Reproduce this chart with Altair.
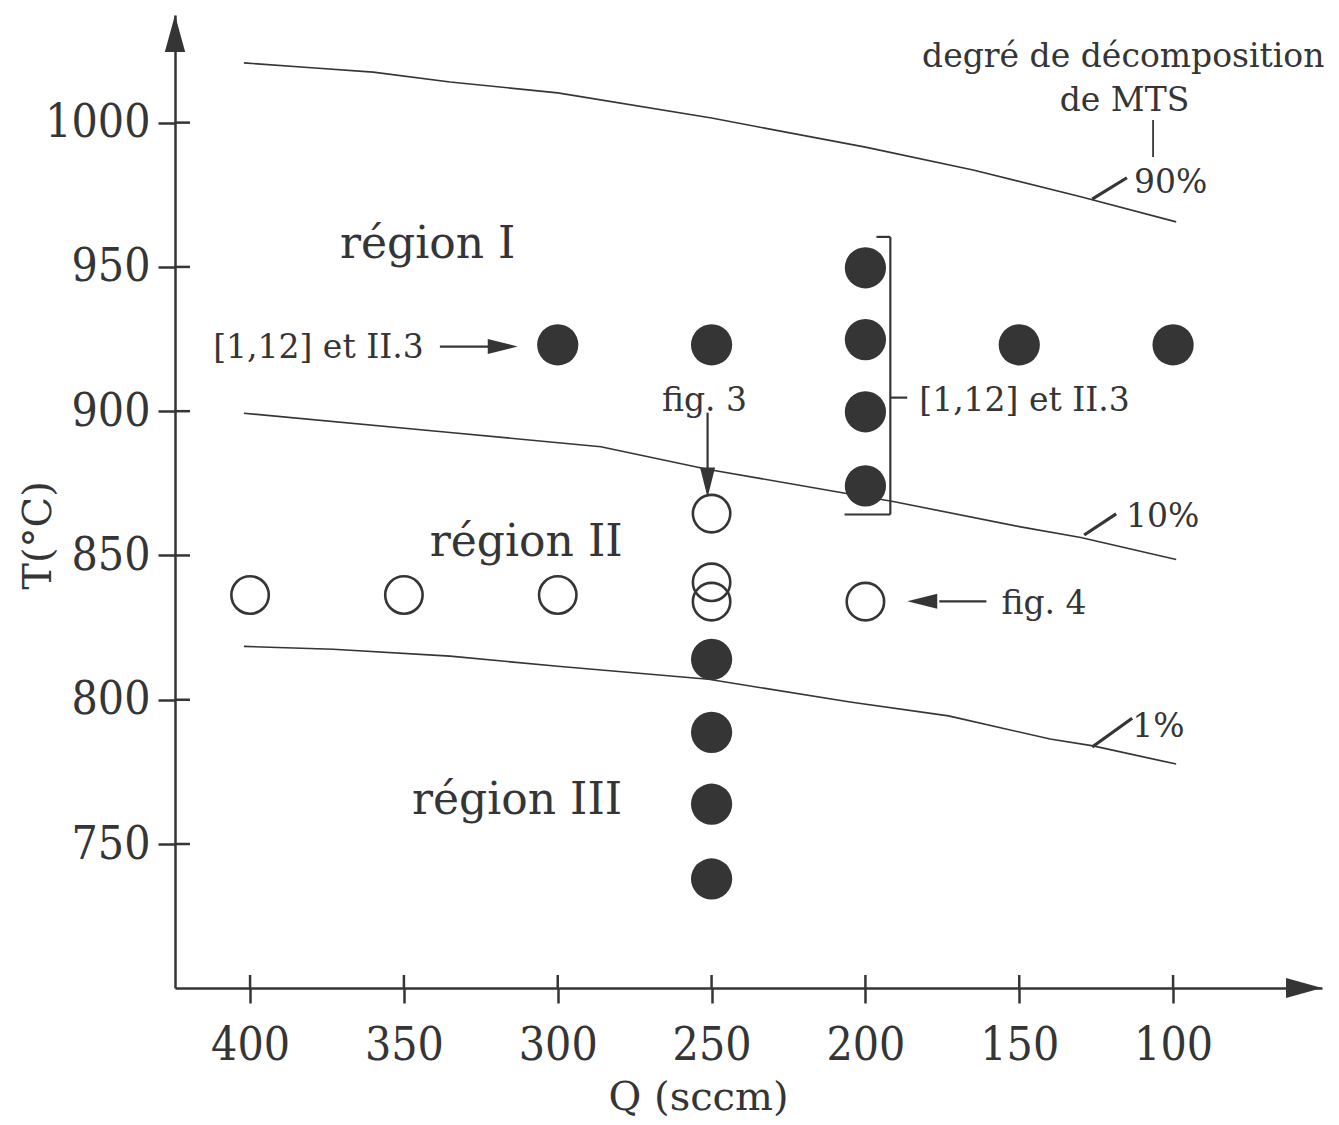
import altair as alt
import pandas as pd

# ---------------- data ----------------
filled_q = [300, 250, 200, 200, 200, 200, 150, 100, 250, 250, 250, 250]
filled_t = [923.0, 923.0, 949.7, 924.8, 899.8, 874.1, 923.0, 923.0, 814.0, 788.7, 763.8, 737.9]

open_q = [400, 350, 300, 250, 250, 250, 200]
open_t = [836.3, 836.3, 836.3, 864.5, 840.7, 834.0, 834.0]

c90_q = [402, 380, 360, 335, 300, 250, 200, 165, 130, 99]
c90_t = [1020.7, 1019.0, 1017.5, 1014.1, 1010.3, 1001.6, 991.5, 983.6, 974.3, 965.6]

c10_q = [402, 335, 286, 251, 208, 191, 150, 130, 99]
c10_t = [899.3, 892.6, 887.7, 879.8, 871.8, 868.7, 860.0, 856.2, 848.6]

c1_q = [402, 373, 335, 300, 251, 205, 173, 140, 126, 99]
c1_t = [818.5, 817.5, 815.1, 811.6, 807.1, 799.2, 794.4, 786.4, 784.0, 777.7]

x_ticks = [400, 350, 300, 250, 200, 150, 100]
y_ticks = [750, 800, 850, 900, 950, 1000]

# ---------------- layout / style ----------------
W, H = 1147, 973
QMIN, QMAX = 51.6, 424.4
TMIN, TMAX = 700.1, 1037.3
INK = "#353535"
SERIF = "DejaVu Serif"
COND = "DejaVu Serif Condensed, DejaVu Serif"

xs = alt.Scale(domain=[QMIN, QMAX], reverse=True, nice=False, zero=False)
ys = alt.Scale(domain=[TMIN, TMAX], nice=False, zero=False)

x_axis = alt.Axis(values=x_ticks, format="d", grid=False, domainColor=INK, domainWidth=2.5,
                  tickColor=INK, tickWidth=2.5, tickSize=15,
                  labelFont=COND, labelFontSize=46, labelColor=INK, labelPadding=20,
                  labelFlush=False, labelOverlap=False,
                  title="Q (sccm)", titleFont=SERIF, titleFontSize=40, titleFontWeight="normal",
                  titleColor=INK, titleX=523, titleY=121, titleAlign="center",
                  titleBaseline="alphabetic", titleAnchor="start")
y_axis = alt.Axis(values=y_ticks, format="d", grid=False, domainColor=INK, domainWidth=2.5,
                  tickColor=INK, tickWidth=2.5, tickSize=17,
                  labelFont=COND, labelFontSize=46, labelColor=INK, labelPadding=8,
                  labelFlush=False, labelOverlap=False,
                  title="T(°C)", titleFont=SERIF, titleFontSize=40, titleFontWeight="normal",
                  titleColor=INK, titleX=-137, titleY=520, titleAngle=270, titleAlign="center",
                  titleBaseline="middle", titleAnchor="start")


def X(field="q"):
    return alt.X(f"{field}:Q", scale=xs, title="Q (sccm)")


def Y(field="t"):
    return alt.Y(f"{field}:Q", scale=ys, title="T(°C)")


def curve(qs, ts):
    df = pd.DataFrame({"q": qs, "t": ts})
    return alt.Chart(df).mark_line(color=INK, strokeWidth=1.6).encode(x=X(), y=Y(), order="q:Q")


def seg(q, t, q2, t2, width=1.8):
    df = pd.DataFrame({"q": [q], "t": [t], "q2": [q2], "t2": [t2]})
    return alt.Chart(df).mark_rule(color=INK, strokeWidth=width).encode(
        x=X(), y=Y(), x2="q2:Q", y2="t2:Q")


def label(txt, q, t, size=33, align="left"):
    df = pd.DataFrame({"q": [q], "t": [t], "txt": [txt]})
    return alt.Chart(df).mark_text(font=SERIF, fontSize=size, color=INK, align=align,
                                   baseline="alphabetic").encode(x=X(), y=Y(), text="txt:N")


def head(q, t, path, size):
    df = pd.DataFrame({"q": [q], "t": [t]})
    return alt.Chart(df).mark_point(shape=path, size=size, filled=True, color=INK,
                                    opacity=1, strokeWidth=0).encode(x=X(), y=Y())


RIGHT = "M0,0 L-2,-0.5 L-2,0.5 Z"
LEFT = "M0,0 L2,-0.5 L2,0.5 Z"
DOWN = "M0,0 L-0.5,-2 L0.5,-2 Z"
UP = "M0,0 L-0.55,2 L0.55,2 Z"

# base layer carrying the axes
base_df = pd.DataFrame({"q": open_q, "t": open_t})
axes = alt.Chart(base_df).mark_point(opacity=0).encode(
    x=alt.X("q:Q", scale=xs, axis=x_axis), y=alt.Y("t:Q", scale=ys, axis=y_axis))

# inner halves of the crossing ticks
ytick_in = alt.Chart(pd.DataFrame({"t": y_ticks})).mark_rule(color=INK, strokeWidth=2.5).encode(
    y=Y(), x=alt.value(0), x2=alt.value(15))
xtick_in = alt.Chart(pd.DataFrame({"q": x_ticks})).mark_rule(color=INK, strokeWidth=2.5).encode(
    x=X(), y=alt.value(H), y2=alt.value(H - 13))

# axis arrowheads
arrow_top = alt.Chart(pd.DataFrame({"a": [0]})).mark_point(
    shape=UP, size=1369, filled=True, color=INK, opacity=1, strokeWidth=0).encode(
    x=alt.value(0), y=alt.value(0))
arrow_right = alt.Chart(pd.DataFrame({"a": [0]})).mark_point(
    shape="M0,0 L-2,-0.55 L-2,0.55 Z", size=1296, filled=True, color=INK, opacity=1,
    strokeWidth=0).encode(x=alt.value(W), y=alt.value(H))

filled = alt.Chart(pd.DataFrame({"q": filled_q, "t": filled_t})).mark_point(
    shape="circle", size=1700, filled=True, color=INK, opacity=1, strokeWidth=0).encode(x=X(), y=Y())
opened = alt.Chart(pd.DataFrame({"q": open_q, "t": open_t})).mark_point(
    shape="circle", size=1400, filled=False, color=INK, opacity=1, strokeWidth=2.6).encode(x=X(), y=Y())

layers = [
    axes, ytick_in, xtick_in, arrow_top, arrow_right,
    curve(c90_q, c90_t), curve(c10_q, c10_t), curve(c1_q, c1_t),
    # curve labels
    label("degré de décomposition", 116.2, 1019.3, align="center"),
    label("de MTS", 115.8, 1004.0, align="center"),
    seg(106.5, 1000.9, 106.5, 988.1, 1.8),
    label("90%", 112.7, 975.6),
    seg(126.3, 973.5, 115.0, 980.9, 3.2),
    label("10%", 115.3, 859.7),
    seg(128.9, 857.1, 118.5, 864.4, 3.2),
    label("1%", 113.3, 787.0),
    seg(126.3, 783.6, 113.3, 793.6, 3.2),
    # regions
    label("région I", 370.8, 953.2, size=44),
    label("région II", 341.6, 849.7, size=44),
    label("région III", 347.4, 760.3, size=44),
    # references
    label("[1,12] et  II.3", 412.0, 918.6),
    seg(338.3, 922.4, 322.0, 922.4, 2.2),
    head(313.0, 922.4, RIGHT, 900),
    label("fig. 3", 252.3, 899.9, align="center"),
    seg(251.3, 899.5, 251.3, 880.0, 2.2),
    head(251.3, 870.1, DOWN, 900),
    # bracket
    seg(191.9, 960.4, 191.9, 864.2, 2.2),
    seg(196.4, 960.4, 191.9, 960.4, 2.2),
    seg(206.8, 864.2, 191.9, 864.2, 2.2),
    seg(191.9, 904.7, 186.4, 904.7, 2.2),
    label("[1,12] et II.3", 182.5, 899.9),
    label("fig. 4", 155.8, 829.6),
    seg(160.7, 834.1, 176.0, 834.1, 2.2),
    head(186.4, 834.1, LEFT, 900),
    opened, filled,
]

chart = alt.layer(*layers).properties(
    width=W, height=H,
    autosize=alt.AutoSizeParams(type="none"),
    padding={"left": 167, "top": 7, "right": 9, "bottom": 129},
    background="white",
).configure_view(stroke=None)

chart.save("out.html", embed_options={"renderer": "svg", "actions": False})
